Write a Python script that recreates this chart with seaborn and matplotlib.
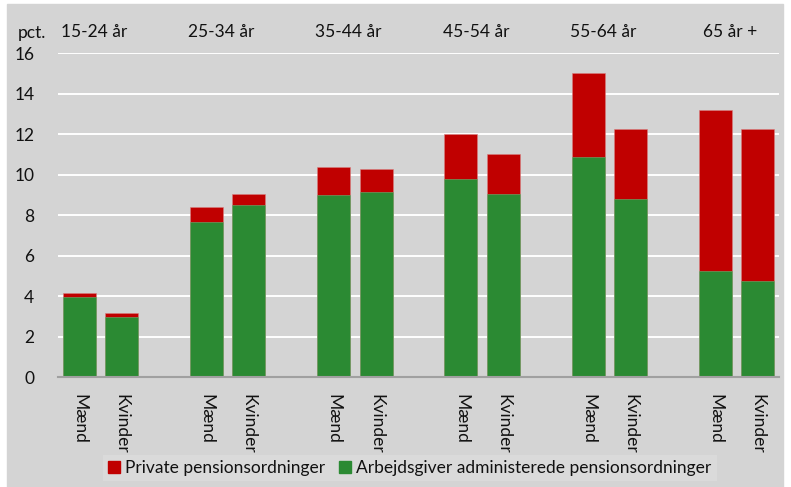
import numpy as np
import pandas as pd
import seaborn as sns
import matplotlib.pyplot as plt
from matplotlib.patches import Patch, Rectangle

# ---------------------------------
# DATA
# ---------------------------------
groups = ["15-24 år", "25-34 år", "35-44 år", "45-54 år", "55-64 år", "65 år +"]
sexes = ["Mænd", "Kvinder"]
arbejdsgiver = [3.95, 2.95, 7.67, 8.49, 8.99, 9.14, 9.78, 9.05, 10.85, 8.79, 5.23, 4.74]
total = [4.15, 3.15, 8.4, 9.05, 10.35, 10.27, 12.0, 11.0, 15.0, 12.23, 13.18, 12.23]

RED = "#c00000"
GREEN = "#2b8a33"
BG = "#d4d4d4"

# slot positions: two bars per group, one empty slot between groups
pos = []
for g in range(len(groups)):
    pos += [g * 3, g * 3 + 1]

df = pd.DataFrame({
    "pos": pos,
    "sex": sexes * len(groups),
    "total": total,
    "arbejdsgiver": arbejdsgiver,
})

# ---------------------------------
# PLOT
# ---------------------------------
sns.set_style("white")
plt.rcParams["font.family"] = ["Lato", "DejaVu Sans"]
plt.rcParams["font.size"] = 12.5
plt.rcParams["text.color"] = "#111111"
plt.rcParams["xtick.color"] = "#111111"
plt.rcParams["ytick.color"] = "#111111"

fig = plt.figure(figsize=(7.91, 4.87), dpi=100, facecolor="white")
fig.patches.append(Rectangle((7 / 791, 0), 776 / 791, 483 / 487,
                             transform=fig.transFigure, color=BG, zorder=-10))
ax = fig.add_axes([58 / 791, 1 - 377 / 487, 721 / 791, 324.5 / 487])
ax.set_facecolor(BG)

sns.barplot(data=df, x="pos", y="total", native_scale=True, color=RED,
            saturation=1, width=0.78, ax=ax, edgecolor="#d98080", linewidth=0.4)
sns.barplot(data=df, x="pos", y="arbejdsgiver", native_scale=True, color=GREEN,
            saturation=1, width=0.78, ax=ax, edgecolor="#6fae74", linewidth=0.4)

ax.set_xlim(-0.5, 16.5)
ax.set_ylim(0, 16.03)
ax.set_yticks(range(0, 17, 2))
ax.yaxis.grid(True, color="white", linewidth=1.4)
ax.set_axisbelow(True)
for s in ["left", "right", "top"]:
    ax.spines[s].set_visible(False)
ax.spines["bottom"].set_color("#a0a0a0")
ax.spines["bottom"].set_linewidth(1.5)

ax.set_xticks(df["pos"])
ax.set_xticklabels(df["sex"], rotation=270, va="top", ha="center")
ax.tick_params(axis="x", length=0, pad=12)
ax.tick_params(axis="y", length=0, pad=17)
ax.set_xlabel("")
ax.set_ylabel("")

# group labels on top
for i, g in enumerate(groups):
    ax.text(i * 3 + 0.35, 17.05, g, ha="center", va="center")
fig.text(18 / 791, 1 - 33 / 487, "pct.", ha="left", va="center")

handles = [Patch(color=RED, label="Private pensionsordninger"),
           Patch(color=GREEN, label="Arbejdsgiver administerede pensionsordninger")]
leg = fig.legend(handles=handles, loc="lower center", bbox_to_anchor=(0.518, -0.006),
                 ncol=2, frameon=True, fancybox=False,
                 handlelength=0.7, handleheight=0.7, handletextpad=0.3,
                 columnspacing=0.8, borderpad=0.3)
leg.get_frame().set_facecolor("#dcdcdc")
leg.get_frame().set_edgecolor("none")

fig.savefig("out.png", dpi=100, facecolor=fig.get_facecolor())
